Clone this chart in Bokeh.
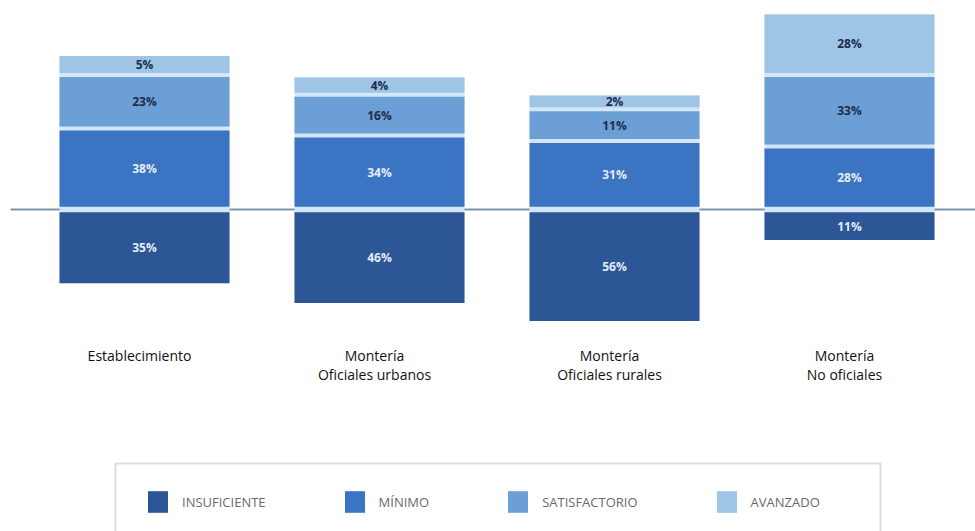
from bokeh.plotting import figure
from bokeh.models import ColumnDataSource, Legend, LegendItem, BoxAnnotation
from bokeh.core.properties import value
from bokeh.embed import file_html
from bokeh.resources import INLINE

# ---- data ----
categories = ["Establecimiento", "Montería\nOficiales urbanos", "Montería\nOficiales rurales", "Montería\nNo oficiales"]
insuficiente = [35, 46, 56, 11]
minimo = [38, 34, 31, 28]
satisfactorio = [23, 16, 11, 33]
avanzado = [5, 4, 2, 28]
level_names = ["INSUFICIENTE", "MÍNIMO", "SATISFACTORIO", "AVANZADO"]

# ---- style / layout ----
colors = ["#2c5696", "#3b74c2", "#6b9fd5", "#9ec5e6"]
text_colors = ["#e3ecf8", "#e3ecf8", "#1c2d4d", "#1c2d4d"]
gap_color = "#d3e5f6"
W, H = 975, 531
PX_X, X0_PX = 235.0, 144.0
BASE_PX, PX_Y = 209.0, 1.8
PAD = 8 / PX_Y
GAP = 4 / PX_Y
OFF = 1.5
BAR_W = 170 / PX_X

x_start = -X0_PX / PX_X
x_end = (W - X0_PX) / PX_X
y_start = -(H - BASE_PX) / PX_Y
y_end = BASE_PX / PX_Y

p = figure(width=W, height=H, x_range=(x_start, x_end), y_range=(y_start, y_end),
           x_axis_type=None, y_axis_type=None, toolbar_location=None,
           output_backend="svg", min_border=0)
p.grid.visible = False
p.outline_line_color = None
p.background_fill_color = "white"

xs = list(range(len(categories)))

# baseline
p.segment(x0=[x_start + 10 / PX_X], y0=[0], x1=[x_end], y1=[0], line_color="#7d95ad", line_width=2)

# compute stacked segments
segs = {k: dict(x=[], bottom=[], top=[], mid=[], label=[]) for k in range(4)}
back = dict(x=[], bottom=[], top=[])
for i in xs:
    v = insuficiente[i]
    b, t = -OFF - (v + PAD), -OFF
    segs[0]["x"].append(i); segs[0]["bottom"].append(b); segs[0]["top"].append(t)
    segs[0]["mid"].append((b + t) / 2); segs[0]["label"].append(f"{v}%")
    lowest = b
    cur = OFF
    for k, arr in zip([1, 2, 3], [minimo, satisfactorio, avanzado]):
        v = arr[i]
        b, t = cur, cur + v + PAD
        segs[k]["x"].append(i); segs[k]["bottom"].append(b); segs[k]["top"].append(t)
        segs[k]["mid"].append((b + t) / 2); segs[k]["label"].append(f"{v}%")
        cur = t + GAP
    back["x"].append(i); back["bottom"].append(lowest); back["top"].append(cur - GAP)

p.vbar(x="x", bottom="bottom", top="top", width=BAR_W, source=ColumnDataSource(back),
       fill_color=gap_color, line_color=None)

renderers = []
for k in range(4):
    src = ColumnDataSource(segs[k])
    r = p.vbar(x="x", bottom="bottom", top="top", width=BAR_W, source=src,
               fill_color=colors[k], line_color=None)
    renderers.append(r)
    p.text(x="x", y="mid", text="label", source=src, text_align="center", text_baseline="middle",
           text_font=value("Open Sans"), text_font_style="bold",
           text_font_size="12px", text_color=text_colors[k])

# category labels
p.text(x=xs, y=[(BASE_PX - 345) / PX_Y] * len(xs), text=categories, x_offset=-5,
       text_align="center", text_baseline="top", text_line_height=1.0,
       text_font=value("Open Sans"), text_font_size="14px",
       text_color="#111111")

# legend box
box = BoxAnnotation(left=115, right=880, top=H - 463, bottom=-20,
                    left_units="screen", right_units="screen", top_units="screen", bottom_units="screen",
                    fill_alpha=0, line_color="#8c8c8c", line_width=2)
p.add_layout(box)

legend = Legend(items=[LegendItem(label=level_names[k], renderers=[renderers[k]]) for k in range(4)],
                orientation="horizontal", location=(145, 16), glyph_width=25, glyph_height=27,
                label_height=27, label_standoff=12, spacing=76, padding=0, margin=0,
                border_line_alpha=0, background_fill_alpha=0,
                label_text_font="Open Sans", label_text_font_size="13px",
                label_text_color="#6a6a6a")
p.add_layout(legend, "center")

open("out.html", "w").write(file_html(p, INLINE))
